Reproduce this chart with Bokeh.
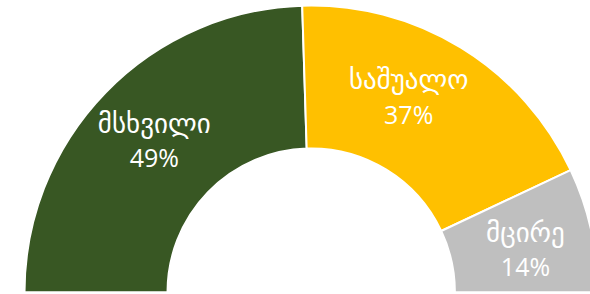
import math
from bokeh.plotting import figure
from bokeh.models import ColumnDataSource, Range1d
from bokeh.core.properties import value
from bokeh.embed import file_html
from bokeh.resources import INLINE

# ---- data ----
categories = ["მსხვილი", "საშუალო", "მცირე"]
shares = [49, 37, 14]
share_labels = ["49%", "37%", "14%"]

# ---- style ----
colors = ["#385723", "#FFC000", "#BFBFBF"]
W, H = 590, 294
CX, CY = 310.7, 2.3
R_OUT, R_IN = 286.7, 143.7
LABEL_R = 218.5
LABEL_NUDGE_DEG = [0.0, 5.0, -1.3]
LINE_GAP = 17.0

total = float(sum(shares))
starts, ends = [], []
acc = 0.0
for v in shares:
    end = math.pi * (1 - acc / total)
    acc += v
    start = math.pi * (1 - acc / total)
    starts.append(start)
    ends.append(end)

lx, ly = [], []
for s, e, nd in zip(starts, ends, LABEL_NUDGE_DEG):
    mid = (s + e) / 2 + math.radians(nd)
    lx.append(CX + LABEL_R * math.cos(mid))
    ly.append(CY + LABEL_R * math.sin(mid))

src = ColumnDataSource(dict(
    cat=categories, share=shares, lab=share_labels, color=colors,
    start=starts, end=ends,
    lx=lx, ly_top=[y + LINE_GAP for y in ly], ly_bot=[y - LINE_GAP for y in ly],
))

p = figure(width=W, height=H, x_range=Range1d(0, W), y_range=Range1d(0, H),
           output_backend="svg", toolbar_location=None, min_border=0)
p.axis.visible = False
p.xgrid.visible = False
p.ygrid.visible = False
p.outline_line_color = None
p.background_fill_color = "white"
p.border_fill_color = "white"

p.annular_wedge(x=CX, y=CY, inner_radius=R_IN, outer_radius=R_OUT,
                start_angle="start", end_angle="end", direction="anticlock",
                fill_color="color", line_color="white", line_width=2, source=src)

p.text(x="lx", y="ly_top", text="cat", source=src, text_align="center",
       text_baseline="middle", text_color="white",
       text_font=value("DejaVu Sans"), text_font_size="27px")
p.text(x="lx", y="ly_bot", text="lab", source=src, text_align="center",
       text_baseline="middle", text_color="white",
       text_font=value("Open Sans"), text_font_size="25px")

open("out.html", "w").write(file_html(p, INLINE))
